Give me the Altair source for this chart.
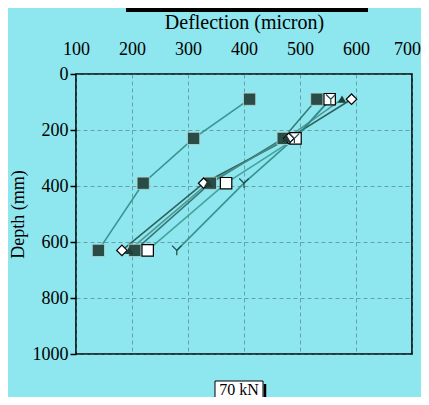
import altair as alt
import pandas as pd

depth = [90, 230, 390, 630]
series_names = ["S1", "S2", "S3", "S4", "S5", "S6"]
s1 = [410, 310, 220, 140]
s2 = [530, 470, 340, 205]
s3 = [553, 492, 368, 228]
s4 = [592, 480, 328, 182]
s5 = [575, 476, 336, 195]
s6 = [555, 490, 400, 280]
values = [s1, s2, s3, s4, s5, s6]

x_ticks = [100, 200, 300, 400, 500, 600, 700]
y_ticks = [0, 200, 400, 600, 800, 1000]

rows = []
for name, vals in zip(series_names, values):
    for d, v in zip(depth, vals):
        rows.append({"series": name, "depth": d, "defl": v})
df = pd.DataFrame(rows)

BG = "#8ee6ee"
LINE = "#2f8b86"
FONT = "Liberation Serif"

xs = alt.X("defl:Q", scale=alt.Scale(domain=[100, 700], nice=False, zero=False),
           axis=alt.Axis(orient="top", values=x_ticks, title="Deflection (micron)",
                         labelFont=FONT, labelFontSize=18, titleFont=FONT, titleFontSize=20,
                         titleFontWeight="normal",
                         labelColor="black", titleColor="black", ticks=False, domain=False,
                         labelFlush=False, labelBound=False, labelOverlap=False,
                         labelOffset=alt.expr("datum.value == 700 ? -5 : 0"),
                         labelPadding=16, titlePadding=8, grid=True,
                         gridDash=[4, 3], gridColor="#4a6a6c", gridOpacity=0.7, gridWidth=0.8))
ys = alt.Y("depth:Q", scale=alt.Scale(domain=[0, 1000], reverse=True, nice=False),
           axis=alt.Axis(values=y_ticks, title="Depth (mm)", labelFont=FONT, labelFontSize=18,
                         titleFont=FONT, titleFontSize=18, titleFontWeight="normal", format="d",
                         labelColor="black", titleColor="black",
                         tickSize=6, tickColor="black", tickWidth=1.5, domain=False,
                         labelFlush=False, labelBound=False, labelOverlap=False,
                         labelPadding=2, titlePadding=5, grid=True,
                         gridDash=[4, 3], gridColor="#4a6a6c", gridOpacity=0.7, gridWidth=0.8))

base = alt.Chart(df)

lines = base.mark_line(strokeWidth=1.6, opacity=0.9).encode(
    x=xs, y=ys, detail="series:N", order="depth:Q",
    color=alt.Color("series:N", legend=None,
                    scale=alt.Scale(domain=series_names,
                                    range=[LINE, "#2a6f6a", "#3d9a94", "#24524e", "#4a8f8a", LINE])),
)

filled = base.transform_filter(alt.FieldOneOfPredicate(field="series", oneOf=["S1", "S2"])).mark_point(
    shape="square", filled=True, size=150, color="#2a4c46", stroke="#b8d8d4", strokeWidth=0.8, opacity=1
).encode(x="defl:Q", y="depth:Q")

open_sq = base.transform_filter(alt.datum.series == "S3").mark_point(
    shape="square", filled=True, size=130, fill="white", stroke="black", strokeWidth=1.2, opacity=1
).encode(x="defl:Q", y="depth:Q")

diam = base.transform_filter(alt.datum.series == "S4").mark_point(
    shape="diamond", filled=True, size=110, fill="white", stroke="black", strokeWidth=1.2, opacity=1
).encode(x="defl:Q", y="depth:Q")

tri = base.transform_filter(alt.datum.series == "S5").mark_point(
    shape="triangle-up", filled=True, size=70, color="#1f3c38", opacity=1
).encode(x="defl:Q", y="depth:Q")

crosses = base.transform_filter(alt.datum.series == "S6").mark_point(
    shape="M-1,-1L0,0L1,-1M0,0L0,1", size=90, color="#1f4a46", strokeWidth=1.2, opacity=1
).encode(x="defl:Q", y="depth:Q")

label_df = pd.DataFrame({"t": ["70 kN"]})
box = alt.Chart(label_df).mark_rect(fill="white", stroke="black", strokeWidth=1).encode(
    x=alt.value(139), x2=alt.value(187), y=alt.value(307), y2=alt.value(324))
shadow = alt.Chart(label_df).mark_rule(color="black", strokeWidth=2.5).encode(
    x=alt.value(189), y=alt.value(310), y2=alt.value(327))
txt = alt.Chart(label_df).mark_text(font=FONT, fontSize=16, color="black").encode(
    x=alt.value(163), y=alt.value(316), text="t:N")
topbar = alt.Chart(label_df).mark_rule(color="black", strokeWidth=4).encode(
    x=alt.value(50), x2=alt.value(292), y=alt.value(-64))

chart = alt.layer(lines, filled, open_sq, diam, tri, crosses, box, shadow, txt, topbar).properties(
    width=336, height=280, background=BG,
    padding={"left": 68, "top": 66, "right": 9, "bottom": 43},
    autosize=alt.AutoSizeParams(type="none"),
).configure_view(stroke="black", strokeWidth=1.6, fill=BG)

chart.save("out.html", embed_options={"renderer": "svg", "actions": False})
